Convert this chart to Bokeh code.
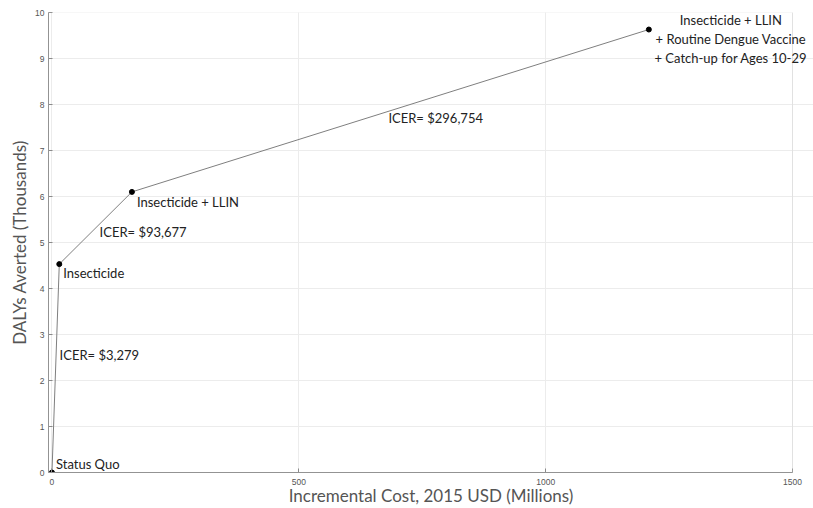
from bokeh.plotting import figure
from bokeh.models import Label, FixedTicker, BoxAnnotation
from bokeh.embed import file_html
from bokeh.resources import INLINE

# Data (cost in millions of 2015 USD, DALYs averted in thousands)
strategies = ["Status Quo", "Insecticide", "Insecticide + LLIN",
              "Insecticide + LLIN\n+ Routine Dengue Vaccine\n+ Catch-up for Ages 10-29"]
costs = [0.0, 14.85, 162.0, 1209.0]
dalys = [0.0, 4.53, 6.10, 9.63]
icer_labels = ["ICER= $3,279", "ICER= $93,677", "ICER= $296,754"]
x_ticks = [0, 500, 1000, 1500]
y_ticks = [0, 1, 2, 3, 4, 5, 6, 7, 8, 9, 10]

FONT = "Lato"
X_START, X_END = -7, 1500
# the frame extends a little past x=1500 so the top-right label is not clipped
X_VIEW_END = 1542.5

p = figure(width=813, height=508, x_range=(X_START, X_VIEW_END), y_range=(0, 10),
           output_backend="svg", toolbar_location=None,
           min_border_left=48, min_border_right=0, min_border_top=12, min_border_bottom=36)

p.background_fill_color = "white"
p.border_fill_color = "white"
p.outline_line_color = None

# axes box (MATLAB-style)
p.add_layout(BoxAnnotation(left=X_START, right=X_END, bottom=0, top=10,
                           fill_color=None, line_color="#c8c8c8", line_width=1))

for ax in (p.xaxis[0], p.yaxis[0]):
    ax.axis_line_color = "#8a8a8a"
    ax.major_tick_line_color = "#8a8a8a"
    ax.major_tick_in = 4
    ax.major_tick_out = 0
    ax.minor_tick_line_color = None
    ax.major_label_text_font = "Liberation Sans"
    ax.major_label_text_font_size = "8.5px"
    ax.major_label_text_color = "#555555"
    ax.axis_label_text_font = FONT
    ax.axis_label_text_font_size = "17px"
    ax.axis_label_text_font_style = "normal"
    ax.axis_label_text_color = "#555555"

p.xaxis.bounds = (X_START, X_END)
p.xaxis.ticker = FixedTicker(ticks=x_ticks)
p.yaxis.ticker = FixedTicker(ticks=y_ticks)
p.xaxis.axis_label = "Incremental Cost, 2015 USD (Millions)"
p.yaxis.axis_label = "DALYs Averted (Thousands)"
p.xaxis.major_label_standoff = 6
p.yaxis.major_label_standoff = 4
p.xaxis.axis_label_standoff = -3
p.yaxis.axis_label_standoff = 2

p.xgrid.ticker = FixedTicker(ticks=x_ticks)
p.ygrid.ticker = FixedTicker(ticks=y_ticks)
p.ygrid.bounds = (X_START, X_END)
p.xgrid.grid_line_color = "#ececec"
p.ygrid.grid_line_color = "#ececec"

p.line(costs, dalys, line_color="#7f7f7f", line_width=1)
p.scatter(costs, dalys, size=5, color="black")

TXT = "#222222"
# point labels (pixel offsets from the point)
pt_offsets = [(4, 9, "left"), (4, -9, "left"), (5, -10, "left")]
for i in range(3):
    dx, dy, al = pt_offsets[i]
    p.add_layout(Label(x=costs[i], y=dalys[i], text=strategies[i], x_offset=dx, y_offset=dy,
                       text_align=al, text_baseline="middle", text_font=FONT,
                       text_font_size="13px", text_color=TXT))
lines = strategies[3].split("\n")
for j, ln in enumerate(lines):
    p.add_layout(Label(x=costs[3], y=dalys[3], text=ln, x_offset=82, y_offset=10 - 19 * j,
                       text_align="center", text_baseline="middle", text_font=FONT,
                       text_font_size="13px", text_color=TXT))

# ICER labels near segment midpoints
icer_offsets = [(4, 13), (4, -4), (-2, -7)]
for i in range(3):
    mx = (costs[i] + costs[i + 1]) / 2
    my = (dalys[i] + dalys[i + 1]) / 2
    dx, dy = icer_offsets[i]
    p.add_layout(Label(x=mx, y=my, text=icer_labels[i], x_offset=dx, y_offset=dy,
                       text_align="left", text_baseline="middle", text_font=FONT,
                       text_font_size="13px", text_color=TXT))

open("out.html", "w").write(file_html(p, INLINE))
